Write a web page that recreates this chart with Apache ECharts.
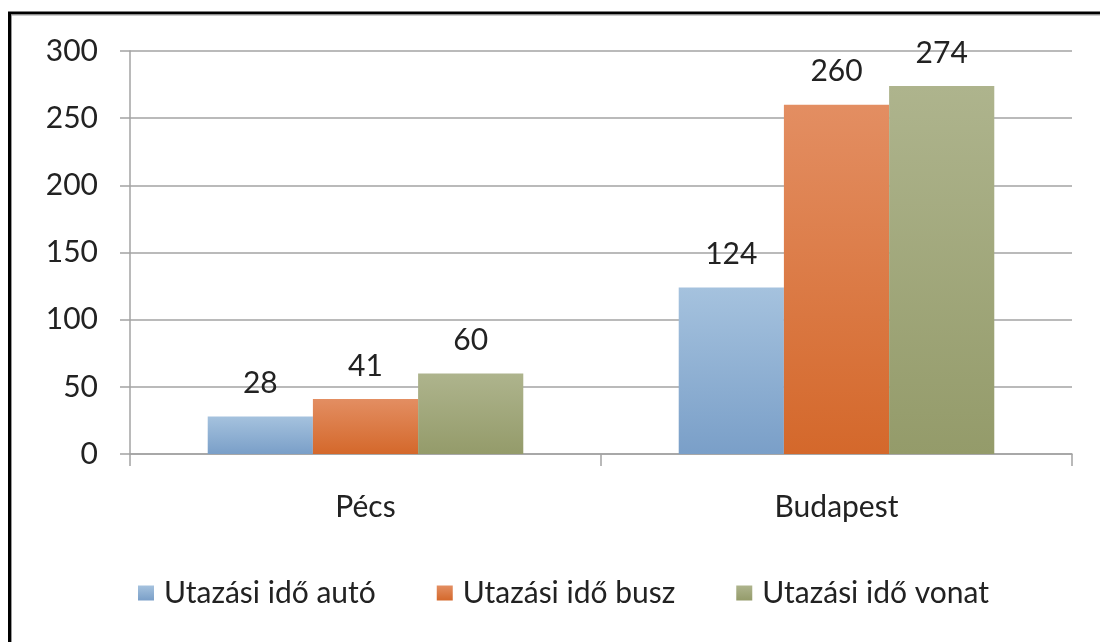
<!DOCTYPE html>
<html>
<head>
<meta charset="utf-8">
<script src="https://cdn.jsdelivr.net/npm/echarts@6/dist/echarts.min.js"></script>
<style>
  html, body { margin: 0; padding: 0; background: #fff; }
  #chart { width: 1100px; height: 642px; }
</style>
</head>
<body>
<div id="chart"></div>
<script>
// Travel time by city and mode of transport
const categories = ['Pécs', 'Budapest'];
const seriesNames = ['Utazási idő autó', 'Utazási idő busz', 'Utazási idő vonat'];
const autoValues = [28, 124];
const buszValues = [41, 260];
const vonatValues = [60, 274];
const yTicks = [0, 50, 100, 150, 200, 250, 300];

const FONT = 'Lato';
const FONT_SIZE = 30;
const TEXT = '#222222';
const GRID = '#a3a3a3';

function grad(top, bottom) {
  return new echarts.graphic.LinearGradient(0, 0, 0, 1, [
    { offset: 0, color: top },
    { offset: 1, color: bottom }
  ]);
}

const palette = [
  grad('#a5c2de', '#7a9fc8'),
  grad('#e38e62', '#d4682b'),
  grad('#aeb48d', '#949b6a')
];

const valueSets = [autoValues, buszValues, vonatValues];

const chart = echarts.init(document.getElementById('chart'), null, { renderer: 'canvas' });

chart.setOption({
  animation: false,
  backgroundColor: '#ffffff',
  textStyle: { fontFamily: FONT },
  graphic: [
    {
      type: 'rect', silent: true,
      shape: { x: 9.5, y: 13, width: 2000, height: 2000 },
      style: { fill: 'none', stroke: '#000', lineWidth: 3 }
    },
    {
      type: 'rect', silent: true,
      shape: { x: 11.5, y: 15, width: 2000, height: 2000 },
      style: { fill: 'none', stroke: '#9a9a9a', lineWidth: 1 }
    }
  ],
  grid: { left: 130, right: 28, top: 51, bottom: 188, containLabel: false },
  legend: {
    top: 573,
    left: 133,
    itemWidth: 16,
    itemHeight: 15,
    itemGap: 61,
    icon: 'rect',
    textStyle: { fontFamily: FONT, fontSize: FONT_SIZE, color: TEXT, padding: [0, 0, 0, 5] },
    data: seriesNames
  },
  xAxis: {
    type: 'category',
    data: categories,
    axisLine: { lineStyle: { color: GRID, width: 1.5 } },
    axisTick: { show: true, length: 12, lineStyle: { color: GRID, width: 1.5 } },
    axisLabel: { fontFamily: FONT, fontSize: FONT_SIZE, color: TEXT, margin: 38 }
  },
  yAxis: {
    type: 'value',
    min: yTicks[0],
    max: yTicks[yTicks.length - 1],
    interval: yTicks[1] - yTicks[0],
    axisLine: { show: true, lineStyle: { color: GRID, width: 1.5 } },
    axisTick: { show: true, length: 10, lineStyle: { color: GRID, width: 1.5 } },
    axisLabel: { fontFamily: FONT, fontSize: FONT_SIZE, color: TEXT, margin: 32 },
    splitLine: { lineStyle: { color: GRID, width: 1.5 } }
  },
  series: seriesNames.map((name, i) => ({
    name,
    type: 'bar',
    data: valueSets[i],
    barGap: '0%',
    barCategoryGap: '33%',
    itemStyle: { color: palette[i] },
    label: {
      show: true,
      position: 'top',
      distance: 18,
      fontFamily: FONT,
      fontSize: FONT_SIZE,
      color: TEXT
    }
  }))
});
</script>
</body>
</html>
